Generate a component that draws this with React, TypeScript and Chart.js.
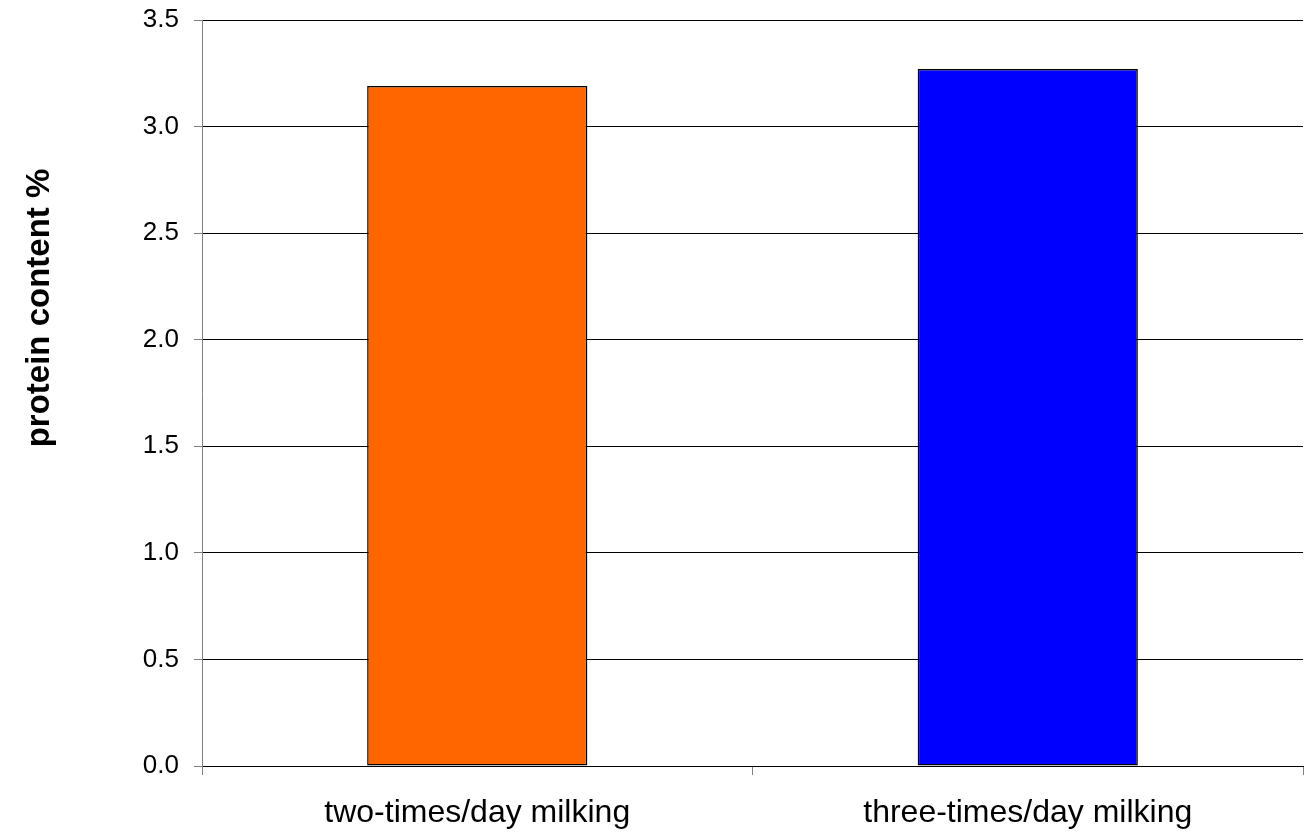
import React, { useEffect, useRef } from "react";
import { Chart, registerables } from "chart.js";

Chart.register(...registerables);

const categories = ["two-times/day milking", "three-times/day milking"];
const proteinValues = [3.19, 3.27];
const barColors = ["#FF6600", "#0000FF"];
const yTicks = [0, 0.5, 1, 1.5, 2, 2.5, 3, 3.5];
const yTitle = "protein content %";

const FONT = "'Liberation Sans', Arial, sans-serif";

const yTitlePlugin = {
  id: "yTitlePlugin",
  afterDraw(chart: any) {
    const ctx = chart.ctx;
    ctx.save();
    ctx.translate(40, 308);
    ctx.rotate(-Math.PI / 2);
    ctx.font = `bold 33px ${FONT}`;
    ctx.fillStyle = "#000000";
    ctx.textAlign = "center";
    ctx.textBaseline = "middle";
    ctx.fillText(yTitle, 0, 0);
    ctx.restore();
  },
};

export default function App() {
  const ref = useRef<HTMLCanvasElement | null>(null);
  useEffect(() => {
    if (!ref.current) return;
    const chart = new Chart(ref.current, {
      type: "bar",
      data: {
        labels: categories,
        datasets: [
          {
            data: proteinValues,
            backgroundColor: barColors,
            borderColor: "#000000",
            borderWidth: 1.5,
            borderSkipped: false,
            categoryPercentage: 1,
            barPercentage: 0.4,
          },
        ],
      },
      plugins: [yTitlePlugin],
      options: {
        animation: false,
        responsive: false,
        maintainAspectRatio: false,
        layout: { padding: { top: 20, right: 1, left: 0, bottom: 0 } },
        plugins: { legend: { display: false }, tooltip: { enabled: false } },
        scales: {
          x: {
            offset: true,
            grid: {
              offset: true,
              drawOnChartArea: false,
              drawTicks: true,
              tickLength: 9,
              color: "#808080",
            },
            border: { color: "#000000", width: 1 },
            ticks: {
              color: "#000000",
              padding: 19,
              font: { family: FONT, size: 32 },
            },
            afterFit: (s: any) => {
              s.height = 70;
              s.paddingLeft = 0;
              s.paddingRight = 0;
            },
          },
          y: {
            min: 0,
            max: 3.5,
            afterBuildTicks: (s: any) => {
              s.ticks = yTicks.map((v) => ({ value: v }));
            },
            grid: {
              color: "#000000",
              tickColor: "#808080",
              tickLength: 8,
              lineWidth: 1,
            },
            border: { color: "#808080", width: 1 },
            ticks: {
              color: "#000000",
              padding: 15,
              font: { family: FONT, size: 26 },
              callback: (v: any) => Number(v).toFixed(1),
            },
            afterFit: (s: any) => {
              s.width = 202;
              s.paddingTop = 0;
              s.paddingBottom = 0;
            },
          },
        },
      },
    });
    return () => chart.destroy();
  }, []);
  return (
    <div style={{ position: "fixed", left: 0, top: 0, width: 1304, height: 836, background: "#fff" }}>
      <canvas ref={ref} width={1304} height={836} style={{ width: 1304, height: 836 }} />
    </div>
  );
}
